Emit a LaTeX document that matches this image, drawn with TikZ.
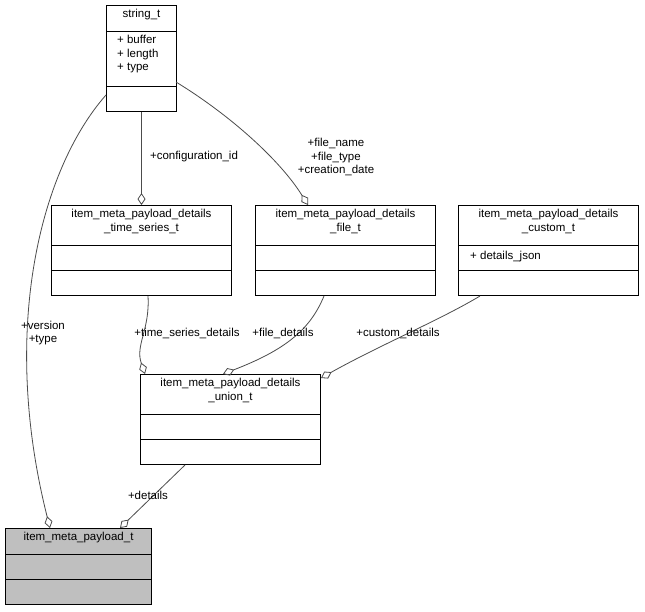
\documentclass[tikz,border=0pt]{standalone}
\usepackage{fontspec}
\setmainfont{Liberation Sans}
\usetikzlibrary{arrows.meta}
\newcommand{\umlbox}[9][white]{%
  \node[draw, fill=#1, line width=1pt, anchor=north west, minimum width=#5pt, minimum height=#6pt+#7pt+#8pt, inner sep=0pt] (#2) at (#3,#4) {};
  \node[anchor=north, align=center, font=\fontsize{11.5}{13.5}\selectfont, inner sep=2pt] (#2-t) at ([yshift=-2pt]#2.north) {#9};
  \draw[line width=1pt] ([yshift=-#6pt]#2.north west) -- ([yshift=-#6pt]#2.north east);
  \draw[line width=1pt] ([yshift=-#6pt-#7pt]#2.north west) -- ([yshift=-#6pt-#7pt]#2.north east);
}
\begin{document}
\begin{tikzpicture}[x=1pt,y=-1pt,
  conn/.style={draw=black!70, line width=0.8pt, -{Diamond[open, length=12pt, width=8pt, line width=0.8pt]}},
  lbl/.style={font=\fontsize{11.5}{13.5}\selectfont, inner sep=0pt, align=center}]
\fill[white] (0,0) rectangle (645,611);
\useasboundingbox (0,0) rectangle (645,611);
\umlbox{str}{106}{5}{70}{26}{55}{25}{string\_t}
\node[lbl, anchor=north west, align=left] (strattr) at (117,35) {+ buffer\\+ length\\+ type};
\umlbox{ts}{51}{205}{180}{40}{25}{25}{item\_meta\_payload\_details\\\_time\_series\_t}
\umlbox{ft}{255}{205}{180}{40}{25}{25}{item\_meta\_payload\_details\\\_file\_t}
\umlbox{cu}{458}{205}{180}{40}{25}{25}{item\_meta\_payload\_details\\\_custom\_t}
\node[lbl, anchor=west] (cuattr) at (470,257) {+ details\_json};
\umlbox{un}{140}{374}{180}{40}{25}{25}{item\_meta\_payload\_details\\\_union\_t}
\umlbox[black!25]{im}{5}{528}{146}{26}{25}{25}{item\_meta\_payload\_t}

\coordinate (a1) at (106,95);
\coordinate (a2) at (176,82);
\draw[conn] (a1) .. controls (40,170) and (0,330) .. ([xshift=45pt]im.north west);
\draw[conn] (str.south) -- (ts.north);
\draw[conn] (a2) .. controls (230,115) and (280,160) .. ([xshift=53pt]ft.north west);
\draw[conn] ([xshift=97pt]ts.south west) .. controls (150,330) and (135,345) .. ([xshift=5pt]un.north west);
\draw[conn] ([xshift=69pt]ft.south west) .. controls (310,330) and (285,350) .. ([xshift=83pt]un.north west);
\draw[conn] ([xshift=22pt]cu.south west) .. controls (440,320) and (380,345) .. ([yshift=-4pt]un.north east);
\draw[conn] ([xshift=45pt]un.south west) -- ([xshift=115pt]im.north west);

\node[lbl] (l1) at (194,157) {+configuration\_id};
\node[lbl] (l2) at (336,157) {+file\_name\\+file\_type\\+creation\_date};
\node[lbl] (l3) at (187,333) {+time\_series\_details};
\node[lbl] (l4) at (283,333) {+file\_details};
\node[lbl] (l5) at (398,333) {+custom\_details};
\node[lbl] (l6) at (43,333) {+version\\+type};
\node[lbl] (l7) at (148,495) {+details};
\end{tikzpicture}
\end{document}
